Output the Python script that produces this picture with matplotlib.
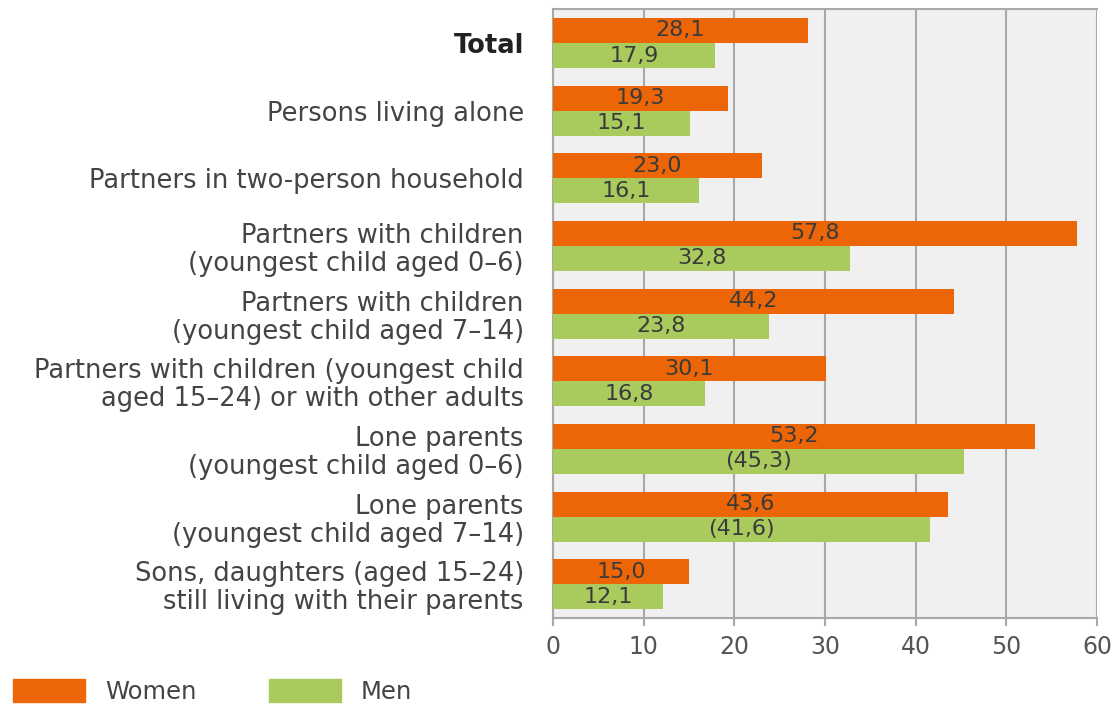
import matplotlib
matplotlib.use("Agg")
import matplotlib.pyplot as plt
from matplotlib.patches import Patch
import numpy as np

plt.rcParams['font.family'] = ['DejaVu Sans']

categories = [
    "Total",
    "Persons living alone",
    "Partners in two-person household",
    "Partners with children\n(youngest child aged 0\u20136)",
    "Partners with children\n(youngest child aged 7\u201314)",
    "Partners with children (youngest child\naged 15\u201324) or with other adults",
    "Lone parents\n(youngest child aged 0\u20136)",
    "Lone parents\n(youngest child aged 7\u201314)",
    "Sons, daughters (aged 15\u201324)\nstill living with their parents",
]
women = [28.1, 19.3, 23.0, 57.8, 44.2, 30.1, 53.2, 43.6, 15.0]
men = [17.9, 15.1, 16.1, 32.8, 23.8, 16.8, 45.3, 41.6, 12.1]
women_labels = ["28,1", "19,3", "23,0", "57,8", "44,2", "30,1", "53,2", "43,6", "15,0"]
men_labels = ["17,9", "15,1", "16,1", "32,8", "23,8", "16,8", "(45,3)", "(41,6)", "12,1"]
xticks = [0, 10, 20, 30, 40, 50, 60]

C_W = "#EC6608"
C_M = "#A9CB5E"
GRID = "#a8a8a8"
TXT = "#444444"

fig = plt.figure(figsize=(11.18, 7.06), dpi=100)
ax = fig.add_axes([0.4946, 0.1246, 0.4866, 0.8624])
ax.set_facecolor("#f0f0f0")

y = np.arange(len(categories))
h = 0.37
ax.barh(y - h / 2, women, height=h, color=C_W, zorder=3)
ax.barh(y + h / 2, men, height=h, color=C_M, zorder=3)

for yi, v, lab in zip(y, women, women_labels):
    ax.text(v / 2, yi - h / 2, lab, ha="center", va="center", fontsize=16, color="#3a3a3a", zorder=4)
for yi, v, lab in zip(y, men, men_labels):
    ax.text(v / 2, yi + h / 2, lab, ha="center", va="center", fontsize=16, color="#3a3a3a", zorder=4)

ax.set_xlim(0, 60)
ax.set_ylim(len(categories) - 0.5, -0.5)
ax.set_xticks(xticks)
ax.set_xticklabels([str(t) for t in xticks])
ax.set_yticks(y)
ax.set_yticklabels(categories, fontsize=18.5, color=TXT, linespacing=1.1)
ax.get_yticklabels()[0].set_fontweight("bold")
ax.get_yticklabels()[0].set_color("#222222")
ax.tick_params(axis="y", length=0, pad=21)
ax.tick_params(axis="x", length=6, width=1.5, color=GRID, labelsize=17, labelcolor="#555555", pad=6)
ax.xaxis.grid(True, color=GRID, linewidth=1.5, zorder=1)
ax.set_axisbelow(True)
for s in ["left", "bottom", "top"]:
    ax.spines[s].set_color(GRID)
    ax.spines[s].set_linewidth(1.5)
ax.spines["right"].set_visible(False)

handles = [Patch(color=C_W, label="Women"), Patch(color=C_M, label="Men")]
fig.legend(handles=handles, loc="lower left", bbox_to_anchor=(13 / 1118, 0.003), ncol=2,
           frameon=False, fontsize=17.5, handlelength=2.96, handleheight=1.07,
           columnspacing=3.0, handletextpad=0.82, borderpad=0, borderaxespad=0,
           labelcolor=TXT)

fig.savefig("out.png", dpi=100)
